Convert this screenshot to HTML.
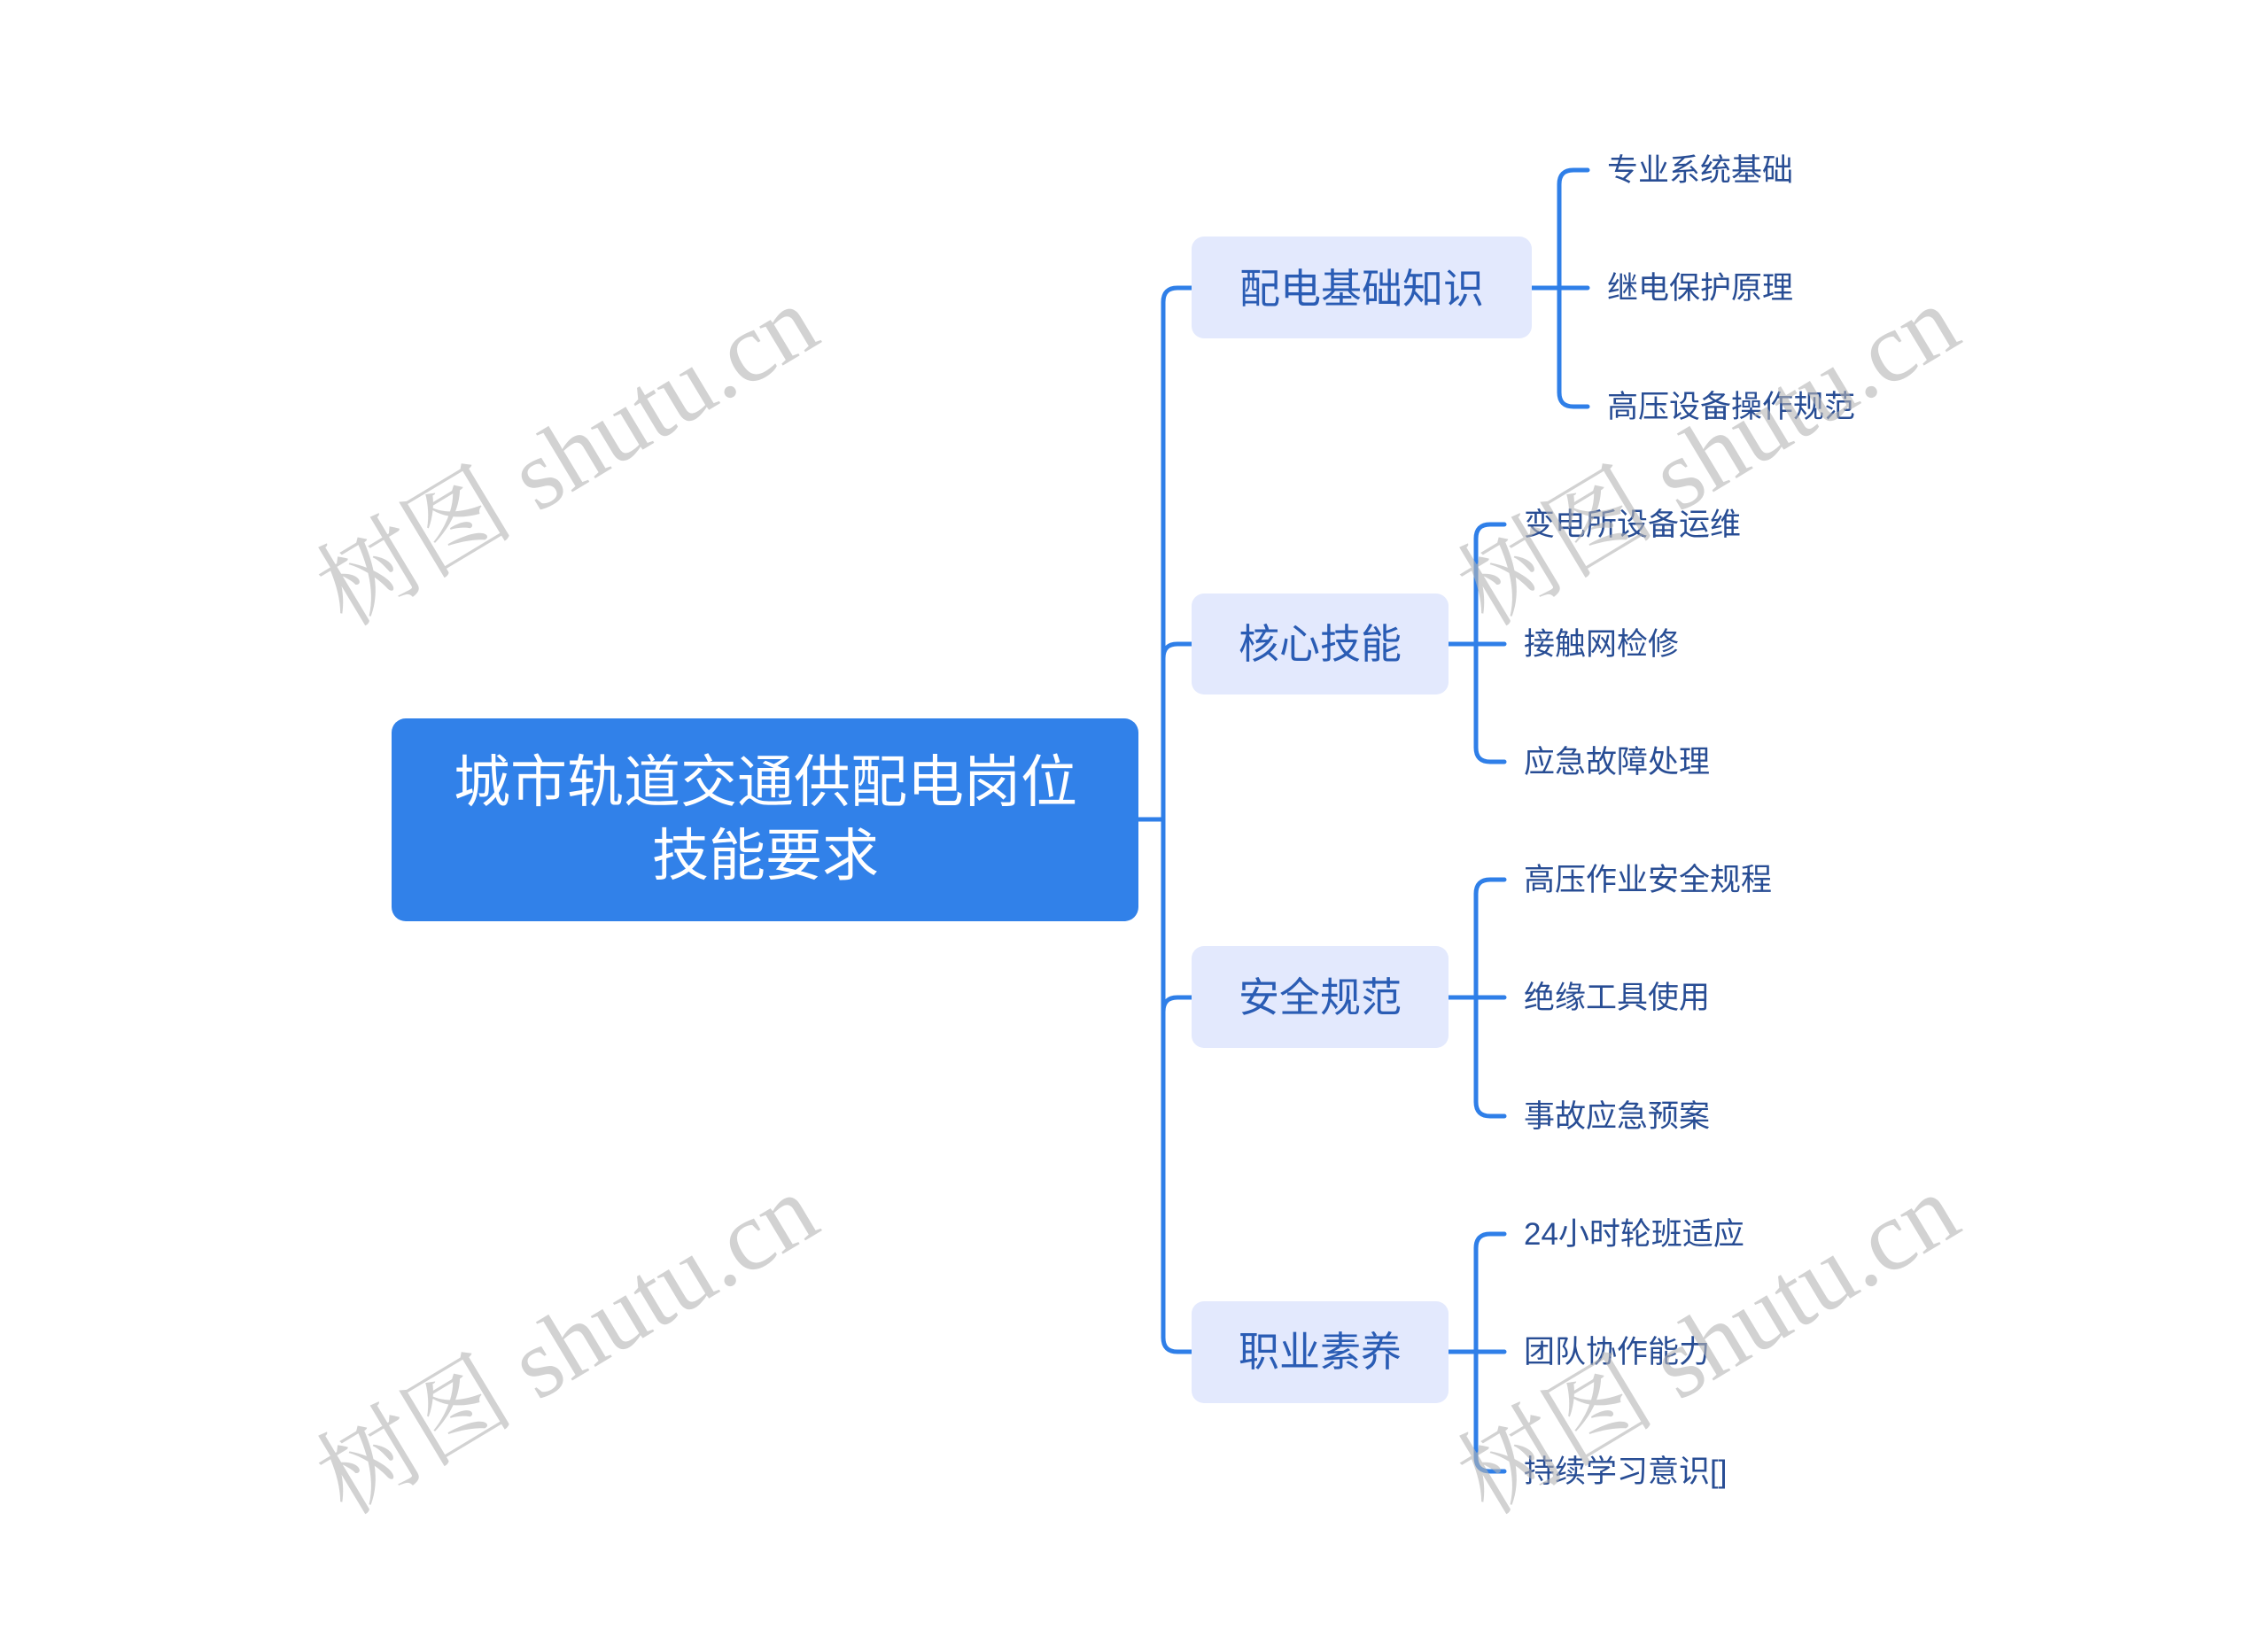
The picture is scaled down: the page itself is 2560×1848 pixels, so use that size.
<!DOCTYPE html>
<html><head><meta charset="utf-8"><style>
html,body{margin:0;padding:0;background:#fff;}
body{width:2560px;height:1843px;overflow:hidden;}
</style></head><body>
<svg width="2560" height="1843" viewBox="0 0 2560 1843" xmlns="http://www.w3.org/2000/svg" font-family="Liberation Sans, Noto Sans CJK SC, sans-serif">
<g fill="none" stroke="#2f7fe8" stroke-width="5" stroke-linecap="round">
  <path d="M1285 925 H1313"/>
  <path d="M1345 325 H1329 Q1313 325 1313 341 V1510 Q1313 1526 1329 1526 H1345"/>
  <path d="M1313 743 Q1313 727 1329 727 H1345"/>
  <path d="M1313 1142 Q1313 1126 1329 1126 H1345"/>
  <path d="M1729 325 H1792"/>
  <path d="M1792 192 H1776 Q1760 192 1760 208 V443 Q1760 459 1776 459 H1792"/>
  <path d="M1635 727 H1698"/>
  <path d="M1698 592 H1682 Q1666 592 1666 608 V844 Q1666 860 1682 860 H1698"/>
  <path d="M1635 1126 H1698"/>
  <path d="M1698 993 H1682 Q1666 993 1666 1009 V1244 Q1666 1260 1682 1260 H1698"/>
  <path d="M1635 1526 H1698"/>
  <path d="M1698 1393 H1682 Q1666 1393 1666 1409 V1645 Q1666 1661 1682 1661 H1698"/>
</g>
<rect x="442" y="811" width="843" height="229" rx="16" fill="#3181e9"/>
<text x="864" y="905" font-size="64" fill="#fff" text-anchor="middle">城市轨道交通供配电岗位</text>
<text x="864" y="988" font-size="64" fill="#fff" text-anchor="middle">技能要求</text>
<g fill="#e3e9fd">
  <rect x="1345" y="267" width="384" height="115" rx="14"/>
  <rect x="1345" y="670" width="290" height="114" rx="14"/>
  <rect x="1345" y="1068" width="290" height="115" rx="14"/>
  <rect x="1345" y="1469" width="290" height="115" rx="14"/>
</g>
<g font-size="46" fill="#2a5cb4" text-anchor="middle">
  <text x="1537" y="342">配电基础知识</text>
  <text x="1490" y="743">核心技能</text>
  <text x="1490" y="1142">安全规范</text>
  <text x="1490" y="1542">职业素养</text>
</g>
<g font-size="35" fill="#284d94">
  <text x="1814" y="204">专业系统基础</text>
  <text x="1814" y="337">继电保护原理</text>
  <text x="1814" y="471">高压设备操作规范</text>
  <text x="1720" y="604">变电所设备运维</text>
  <text x="1720" y="739">接触网检修</text>
  <text x="1720" y="872">应急故障处理</text>
  <text x="1720" y="1005">高压作业安全规程</text>
  <text x="1720" y="1138">绝缘工具使用</text>
  <text x="1720" y="1272">事故应急预案</text>
  <text x="1720" y="1405">24小时轮班适应</text>
  <text x="1720" y="1538">团队协作能力</text>
  <text x="1720" y="1673">持续学习意识[]</text>
</g>
<g font-family="Liberation Serif, Noto Serif CJK SC, serif" font-size="112" fill="#b4b4b4" fill-opacity="0.6" text-anchor="middle">
  <text transform="translate(660,547) rotate(-31)">树图 shutu.cn</text>
  <text transform="translate(660,1550) rotate(-31)">树图 shutu.cn</text>
  <text transform="translate(1948,547) rotate(-31)">树图 shutu.cn</text>
  <text transform="translate(1948,1550) rotate(-31)">树图 shutu.cn</text>
</g>
</svg>
</body></html>
